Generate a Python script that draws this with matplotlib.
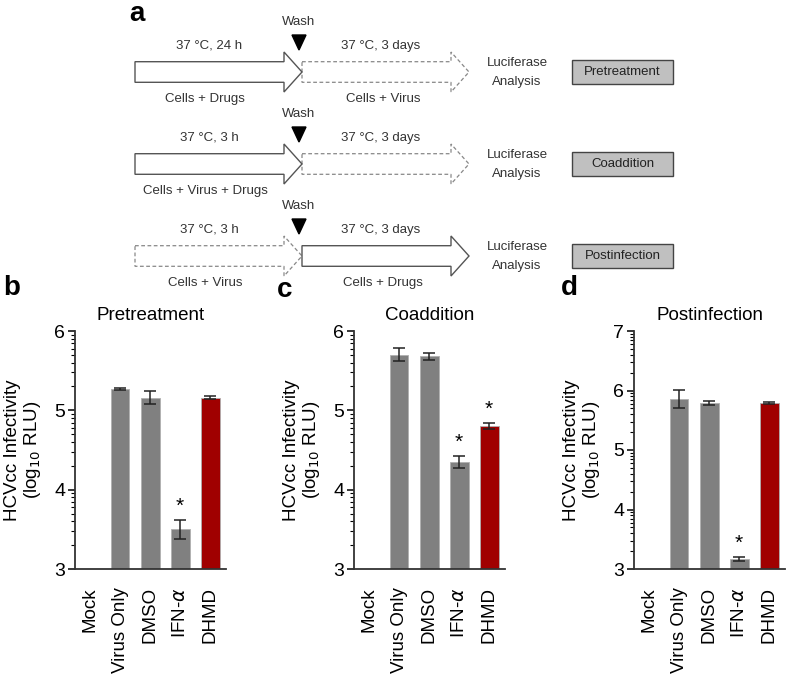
import matplotlib
matplotlib.use("Agg")
import numpy as np
import matplotlib.pyplot as plt
from matplotlib.patches import Polygon, Rectangle
from matplotlib.ticker import MultipleLocator, FixedLocator

plt.rcParams['font.family'] = ['Liberation Sans', 'DejaVu Sans']

# data
categories = ["Mock", "Virus Only", "DMSO", "IFN-$\\alpha$", "DHMD"]
pre_vals = [0, 5.27, 5.16, 3.50, 5.16]
pre_err = [0, 0.015, 0.08, 0.12, 0.02]
co_vals = [0, 5.70, 5.68, 4.35, 4.80]
co_err = [0, 0.08, 0.04, 0.08, 0.04]
post_vals = [0, 5.86, 5.79, 3.17, 5.79]
post_err = [0, 0.15, 0.03, 0.03, 0.015]
signif = {"Pretreatment": [3], "Coaddition": [3, 4], "Postinfection": [3]}

schemes = ["Pretreatment", "Coaddition", "Postinfection"]
step1_temp = ["37 \u00b0C, 24 h", "37 \u00b0C, 3 h", "37 \u00b0C, 3 h"]
step1_label = ["Cells + Drugs", "Cells + Virus + Drugs", "Cells + Virus"]
step2_label = ["Cells + Virus", "", "Cells + Drugs"]
step1_solid = [True, True, False]

W, H = 787, 678
fig = plt.figure(figsize=(W / 100, H / 100), dpi=100)

# ---- panel a : schematic drawn in pixel coordinates
axa = fig.add_axes([0, 0, 1, 1])
axa.set_xlim(0, W)
axa.set_ylim(H, 0)
axa.axis("off")

txt_c = "#333333"
fs = 9.5


def arrow(x0, x1, yc, solid):
    bh, hh, hl = 10.3, 20, 18
    pts = [(x0, yc - bh), (x1 - hl, yc - bh), (x1 - hl, yc - hh), (x1, yc),
           (x1 - hl, yc + hh), (x1 - hl, yc + bh), (x0, yc + bh)]
    if solid:
        p = Polygon(pts, closed=True, fc="white", ec="#555555", lw=1.0, zorder=3)
    else:
        p = Polygon(pts, closed=True, fc="none", ec="#888888", lw=0.9,
                    ls=(0, (3, 2)), zorder=2)
    axa.add_patch(p)


axa.text(137, 14, "a", fontsize=20, fontweight="bold", ha="center", va="center")
row_y = [72, 164, 256]
for i, yc in enumerate(row_y):
    arrow(135, 302, yc, step1_solid[i])
    arrow(302, 469, yc, not step1_solid[i])
    axa.text(299, yc - 50, "Wash", fontsize=fs, ha="center", va="center", color=txt_c)
    axa.add_patch(Polygon([(292, yc - 37), (306, yc - 37), (299, yc - 22)],
                          closed=True, fc="black", ec="black", zorder=4))
    axa.text(209, yc - 26, step1_temp[i], fontsize=fs, ha="center", va="center", color=txt_c)
    axa.text(381, yc - 26, "37 \u00b0C, 3 days", fontsize=fs, ha="center", va="center", color=txt_c)
    axa.text(205, yc + 27, step1_label[i], fontsize=fs, ha="center", va="center", color=txt_c)
    if step2_label[i]:
        axa.text(383, yc + 27, step2_label[i], fontsize=fs, ha="center", va="center", color=txt_c)
    axa.text(517, yc - 9, "Luciferase", fontsize=fs, ha="center", va="center", color=txt_c)
    axa.text(517, yc + 10, "Analysis", fontsize=fs, ha="center", va="center", color=txt_c)
    axa.add_patch(Rectangle((572, yc - 12), 101, 24, fc="#c0c0c0", ec="#444444", lw=1.0))
    axa.text(622.5, yc, schemes[i], fontsize=fs, ha="center", va="center", color="#222222")

# ---- panels b, c, d
panels = [
    ("b", "Pretreatment", pre_vals, pre_err, 75, (3, 6), 12, 288),
    ("c", "Coaddition", co_vals, co_err, 354, (3, 6), 285, 290),
    ("d", "Postinfection", post_vals, post_err, 634, (3, 7), 569, 288),
]
colors = ["#808080", "#808080", "#808080", "#808080", "#a00000"]
x = list(range(len(categories)))
ax_w = 151
for letter, title, vals, errs, left, ylim, lx, ly in panels:
    ax = fig.add_axes([left / W, (H - 569) / H, ax_w / W, 238 / H])
    ax.set_zorder(5)
    heights = [v - ylim[0] if v > 0 else 0 for v in vals]
    ax.bar(x, heights, bottom=ylim[0], width=0.63, color=colors, edgecolor="#b0b0b0",
           linewidth=0.6)
    for xi, v, e in zip(x, vals, errs):
        if v > 0:
            ax.errorbar(xi, v, yerr=e, fmt="none", ecolor="#222222", elinewidth=1.1,
                        capsize=4.5, capthick=1.1)
    for xi in signif[title]:
        ax.annotate("*", (xi, vals[xi] + errs[xi]), xytext=(0, 3),
                    textcoords="offset points", ha="center", va="bottom", fontsize=15)
    ax.set_xlim(-0.5, 4.53)
    ax.set_ylim(*ylim)
    ax.yaxis.set_major_locator(MultipleLocator(1))
    # log-style minor ticks within each decade
    minors = [n + np.log10(k) for n in range(ylim[0], ylim[1]) for k in range(2, 10)]
    ax.yaxis.set_minor_locator(FixedLocator(minors))
    for s in ["top", "right"]:
        ax.spines[s].set_visible(False)
    for s in ["left", "bottom"]:
        ax.spines[s].set_color("#333333")
        ax.spines[s].set_linewidth(1.3)
    ax.set_xticks(x)
    ax.set_xticklabels(categories, rotation=90, fontsize=13.5)
    ax.tick_params(axis="x", length=0, pad=13)
    ax.tick_params(axis="y", which="major", length=5, width=1.1, labelsize=14, pad=2)
    ax.tick_params(axis="y", which="minor", length=3, width=0.8)
    ax.set_title(title, fontsize=13.5, pad=8)
    ax.set_ylabel("HCVcc Infectivity\n(log$_{10}$ RLU)", fontsize=13.5, labelpad=8,
                  linespacing=1.1)
    fig.text(lx / W, 1 - ly / H, letter, fontsize=20, fontweight="bold",
             ha="center", va="center")

fig.savefig("out.png", dpi=100)
